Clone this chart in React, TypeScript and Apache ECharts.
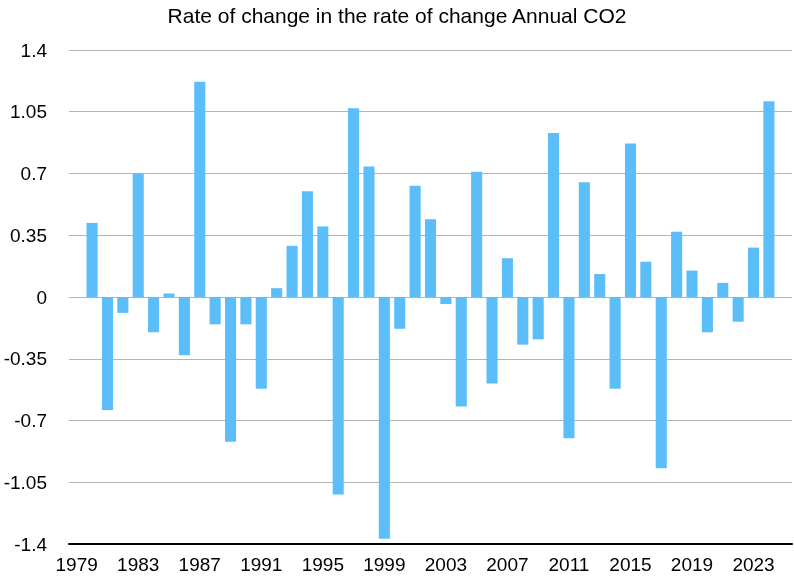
import React, { useEffect, useRef } from "react";
import * as echarts from "echarts";

const years: string[] = [];
for (let y = 1979; y <= 2025; y++) years.push(String(y));

const values: (number | null)[] = [
  null, // 1979
  0.42, -0.64, -0.09, 0.7, -0.2, 0.02, -0.33, 1.22, -0.155, -0.82,
  -0.155, -0.52, 0.05, 0.29, 0.6, 0.4, -1.12, 1.07, 0.74, -1.37,
  -0.18, 0.63, 0.44, -0.04, -0.62, 0.71, -0.49, 0.22, -0.27, -0.24,
  0.93, -0.8, 0.65, 0.13, -0.52, 0.87, 0.2, -0.97, 0.37, 0.15,
  -0.2, 0.08, -0.14, 0.28, 1.11,
  null, // 2025
];

const title = "Rate of change in the rate of change Annual CO2";

export default function App() {
  const ref = useRef<HTMLDivElement>(null);
  useEffect(() => {
    if (!ref.current) return;
    const chart = echarts.init(ref.current, undefined, { renderer: "svg" });
    const font = "'Liberation Sans', Arial, Helvetica, sans-serif";
    chart.setOption({
      animation: false,
      title: {
        text: title,
        left: "center",
        top: 0,
        textStyle: { fontFamily: font, fontSize: 21, fontWeight: "normal", color: "#000" },
      },
      grid: { left: 69, right: 2, top: 50, bottom: 32, containLabel: false },
      xAxis: {
        type: "category",
        data: years,
        axisLine: { show: true, onZero: false, lineStyle: { color: "#000", width: 2 } },
        axisTick: { show: false },
        axisLabel: {
          interval: 3,
          color: "#000",
          fontFamily: font,
          fontSize: 19,
          margin: 11,
        },
        splitLine: { show: false },
      },
      yAxis: {
        type: "value",
        min: -1.4,
        max: 1.4,
        interval: 0.35,
        axisLine: { show: false },
        axisTick: { show: false },
        axisLabel: {
          color: "#000",
          fontFamily: font,
          fontSize: 19,
          margin: 22,
          formatter: (v: number) => String(Math.round(v * 100) / 100),
        },
        splitLine: { show: true, lineStyle: { color: "#b4b4b4", width: 1 } },
      },
      series: [
        {
          type: "bar",
          data: values,
          barCategoryGap: "28%",
          itemStyle: { color: "#5BBEF8" },
        },
      ],
    });
    return () => chart.dispose();
  }, []);
  return (
    <div
      ref={ref}
      style={{ position: "fixed", left: 0, top: 0, width: 794, height: 576 }}
    />
  );
}
